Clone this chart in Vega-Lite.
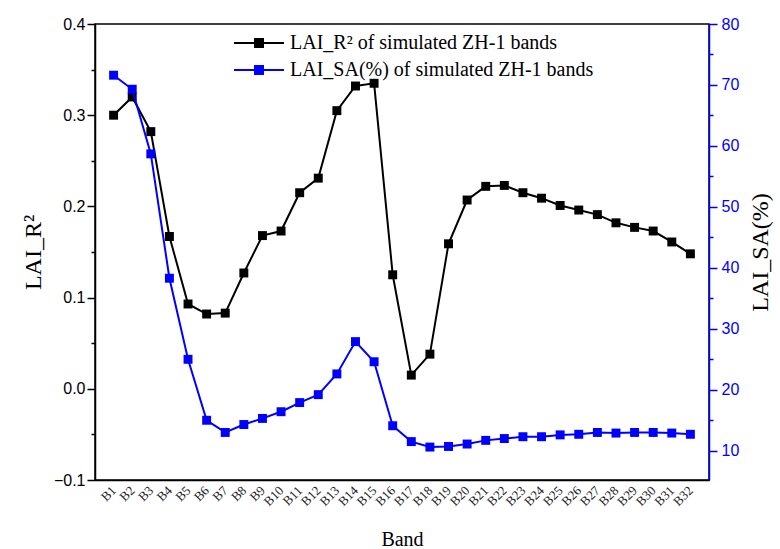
{
  "$schema": "https://vega.github.io/schema/vega-lite/v6.json",
  "width": 614,
  "height": 456,
  "autosize": "none",
  "padding": {"left": 95, "top": 24, "right": 71, "bottom": 69},
  "background": "white",
  "config": {
    "view": {"stroke": "black", "strokeWidth": 1.5},
    "font": "Liberation Serif",
    "axis": {"grid": false}
  },
  "data": {
    "values": [
      {"band": "B1", "r2": 0.300, "sa": 71.6},
      {"band": "B2", "r2": 0.320, "sa": 69.3},
      {"band": "B3", "r2": 0.282, "sa": 58.7},
      {"band": "B4", "r2": 0.167, "sa": 38.3},
      {"band": "B5", "r2": 0.093, "sa": 25.0},
      {"band": "B6", "r2": 0.082, "sa": 15.0},
      {"band": "B7", "r2": 0.083, "sa": 13.0},
      {"band": "B8", "r2": 0.127, "sa": 14.3},
      {"band": "B9", "r2": 0.168, "sa": 15.3},
      {"band": "B10", "r2": 0.173, "sa": 16.4},
      {"band": "B11", "r2": 0.215, "sa": 17.9},
      {"band": "B12", "r2": 0.231, "sa": 19.2},
      {"band": "B13", "r2": 0.305, "sa": 22.6},
      {"band": "B14", "r2": 0.332, "sa": 27.9},
      {"band": "B15", "r2": 0.335, "sa": 24.6},
      {"band": "B16", "r2": 0.125, "sa": 14.1},
      {"band": "B17", "r2": 0.015, "sa": 11.5},
      {"band": "B18", "r2": 0.038, "sa": 10.6},
      {"band": "B19", "r2": 0.159, "sa": 10.7},
      {"band": "B20", "r2": 0.207, "sa": 11.1},
      {"band": "B21", "r2": 0.222, "sa": 11.7},
      {"band": "B22", "r2": 0.223, "sa": 12.0},
      {"band": "B23", "r2": 0.215, "sa": 12.3},
      {"band": "B24", "r2": 0.209, "sa": 12.3},
      {"band": "B25", "r2": 0.201, "sa": 12.6},
      {"band": "B26", "r2": 0.196, "sa": 12.7},
      {"band": "B27", "r2": 0.191, "sa": 13.0},
      {"band": "B28", "r2": 0.182, "sa": 12.9},
      {"band": "B29", "r2": 0.177, "sa": 13.0},
      {"band": "B30", "r2": 0.173, "sa": 13.0},
      {"band": "B31", "r2": 0.161, "sa": 12.9},
      {"band": "B32", "r2": 0.148, "sa": 12.7}
    ]
  },
  "encoding": {
    "x": {
      "field": "band",
      "type": "ordinal",
      "sort": null,
      "scale": {"type": "point", "padding": 1},
      "axis": {
        "title": "Band",
        "titleFont": "Liberation Serif",
        "titleFontSize": 20,
        "titleFontWeight": "normal",
        "titleColor": "black",
        "titlePadding": 21,
        "labelAngle": -45,
        "labelAlign": "right",
        "labelBaseline": "middle",
        "labelFont": "Liberation Serif",
        "labelFontSize": 13,
        "labelColor": "#222",
        "labelPadding": 8,
        "labelOverlap": false,
        "ticks": false,
        "domainColor": "black",
        "domainWidth": 1.5
      }
    }
  },
  "layer": [
    {
      "mark": {"type": "line", "strokeWidth": 2, "point": {"shape": "square", "size": 80, "filled": true, "opacity": 1}},
      "encoding": {
        "y": {
          "field": "r2",
          "type": "quantitative",
          "scale": {"domain": [-0.1, 0.4], "nice": false, "zero": false},
          "axis": {
            "orient": "left",
            "title": "LAI_R²",
            "titleFont": "Liberation Serif",
            "titleFontSize": 24,
            "titleFontWeight": "normal",
            "titleColor": "black",
            "titlePadding": 8,
            "values": [-0.1, -0.05, 0, 0.05, 0.1, 0.15, 0.2, 0.25, 0.3, 0.35, 0.4],
            "labelExpr": "abs(datum.value*10 - round(datum.value*10)) < 0.001 ? format(datum.value, '.1f') : ''",
            "labelFont": "Liberation Sans",
            "labelFontSize": 16,
            "labelColor": "black",
            "labelPadding": 2,
            "tickColor": "black",
            "tickWidth": 1.5,
            "tickSize": {"condition": {"test": "abs(datum.value*10 - round(datum.value*10)) > 0.001", "value": 4}, "value": 8},
            "domainColor": "black",
            "domainWidth": 1.5
          }
        },
        "color": {
          "datum": "LAI_R² of simulated ZH-1 bands",
          "type": "nominal",
          "scale": {"domain": ["LAI_R² of simulated ZH-1 bands", "LAI_SA(%) of simulated ZH-1 bands"], "range": ["black", "#0000ff"]},
          "legend": {
            "title": null,
            "orient": "none",
            "legendX": 154,
            "legendY": 9,
            "padding": 0,
            "symbolType": "M-5,0H5M-0.8,-0.8H0.8V0.8H-0.8Z",
            "symbolSize": 100,
            "symbolStrokeWidth": 2,
            "labelOffset": 21,
            "labelFont": "Liberation Serif",
            "labelFontSize": 20,
            "labelColor": "black",
            "rowPadding": 7,
            "labelLimit": 600,
            "encode": {"symbols": {"update": {"fill": {"scale": "color", "field": "value"}, "stroke": {"scale": "color", "field": "value"}, "opacity": {"value": 1}}}}
          }
        }
      }
    },
    {
      "mark": {"type": "line", "strokeWidth": 2, "point": {"shape": "square", "size": 80, "filled": true, "opacity": 1}},
      "encoding": {
        "y": {
          "field": "sa",
          "type": "quantitative",
          "scale": {"domain": [5.2, 80], "nice": false, "zero": false},
          "axis": {
            "orient": "right",
            "title": "LAI_SA(%)",
            "titleAngle": 270,
            "titleFont": "Liberation Serif",
            "titleFontSize": 24,
            "titleFontWeight": "normal",
            "titleColor": "black",
            "titlePadding": 34,
            "values": [10, 15, 20, 25, 30, 35, 40, 45, 50, 55, 60, 65, 70, 75, 80],
            "labelExpr": "datum.value % 10 == 0 ? format(datum.value, 'd') : ''",
            "labelFont": "Liberation Sans",
            "labelFontSize": 16,
            "labelColor": "#0000ff",
            "labelPadding": 4,
            "tickColor": "#0000ff",
            "tickWidth": 1.5,
            "tickSize": {"condition": {"test": "datum.value % 10 != 0", "value": 4}, "value": 8},
            "domainColor": "#0000ff",
            "domainWidth": 1.5
          }
        },
        "color": {"datum": "LAI_SA(%) of simulated ZH-1 bands", "type": "nominal"}
      }
    }
  ],
  "resolve": {"scale": {"y": "independent"}}
}
